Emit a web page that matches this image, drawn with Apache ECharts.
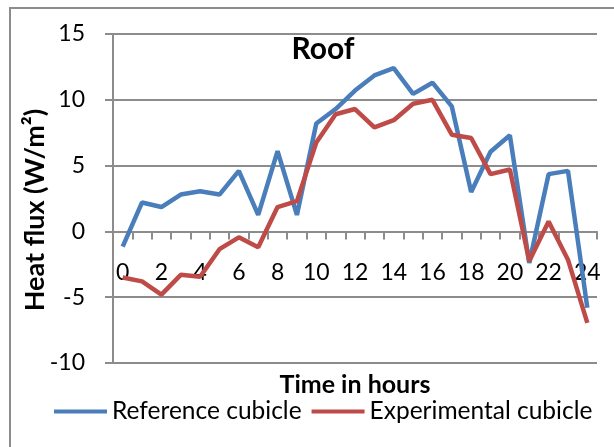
<!DOCTYPE html>
<html>
<head>
<meta charset="utf-8">
<script src="https://cdn.jsdelivr.net/npm/echarts@6/dist/echarts.min.js"></script>
<style>
  html, body { margin: 0; padding: 0; background: #fff; }
  #chart { width: 614px; height: 447px; }
</style>
</head>
<body>
<div id="chart"></div>
<script>
// Hourly heat flux through the roof, W/m²
const hours = ['0','1','2','3','4','5','6','7','8','9','10','11','12','13','14','15','16','17','18','19','20','21','22','23','24'];
const referenceCubicle = [-1.15, 2.2, 1.85, 2.8, 3.05, 2.8, 4.6, 1.25, 6.1, 1.25, 8.2, 9.3, 10.7, 11.85, 12.4, 10.45, 11.3, 9.5, 3.0, 6.05, 7.3, -2.4, 4.35, 4.6, -5.8];
const experimentalCubicle = [-3.5, -3.8, -4.8, -3.3, -3.45, -1.35, -0.45, -1.2, 1.85, 2.3, 6.75, 8.9, 9.3, 7.9, 8.45, 9.7, 10.0, 7.35, 7.1, 4.35, 4.7, -2.25, 0.75, -2.15, -6.95];
const yTicks = { min: -10, max: 15, step: 5 };
const yTitle = 'Heat flux (W/m²)';

const FONT = 'Lato';
const GRID_GRAY = '#8c8c8c';

const chart = echarts.init(document.getElementById('chart'), null, { renderer: 'canvas' });
chart.setOption({
  animation: false,
  backgroundColor: '#ffffff',
  color: ['#4a7ebb', '#be4b48'],
  title: {
    text: 'Roof',
    left: 318,
    top: 29,
    textAlign: 'center',
    textStyle: { fontFamily: FONT, fontWeight: 'bold', fontSize: 30, color: '#000' }
  },
  graphic: [{
    // outer chart frame
    type: 'rect',
    shape: { x: 10, y: 8, width: 700, height: 600 },
    style: { fill: 'none', stroke: GRID_GRAY, lineWidth: 2 },
    silent: true
  }, {
    // vertical axis title
    type: 'text',
    x: 35,
    y: 210,
    rotation: Math.PI / 2,
    style: {
      text: yTitle,
      fontFamily: FONT,
      fontWeight: 'bold',
      fontSize: 27,
      fill: '#000',
      align: 'center',
      verticalAlign: 'middle'
    },
    silent: true
  }],
  grid: { left: 113, right: 17, top: 34, bottom: 84, containLabel: false, outerBoundsMode: 'none' },
  legend: {
    left: 49,
    top: 394,
    icon: 'rect',
    itemWidth: 53,
    itemHeight: 4,
    itemGap: 10,
    textStyle: { fontFamily: FONT, fontSize: 24.5, color: '#000' },
    data: ['Reference cubicle', 'Experimental cubicle']
  },
  xAxis: {
    type: 'category',
    data: hours,
    boundaryGap: true,
    name: 'Time in hours',
    nameLocation: 'middle',
    nameGap: 9,
    nameTextStyle: { fontFamily: FONT, fontWeight: 'bold', fontSize: 25, color: '#000' },
    axisLine: { onZero: true, onZeroAxisIndex: 0, lineStyle: { color: GRID_GRAY, width: 2 } },
    axisTick: { show: true, interval: 0, alignWithLabel: false, length: 8, lineStyle: { color: GRID_GRAY, width: 2 } },
    axisLabel: { interval: 1, margin: -102, fontFamily: FONT, fontSize: 23, color: '#000' },
    splitLine: { show: false }
  },
  yAxis: {
    type: 'value',
    min: yTicks.min,
    max: yTicks.max,
    interval: yTicks.step,
    axisLine: { show: true, onZero: false, lineStyle: { color: GRID_GRAY, width: 2 } },
    axisTick: { show: true, length: 8, lineStyle: { color: GRID_GRAY, width: 2 } },
    axisLabel: { margin: 28, fontFamily: FONT, fontSize: 23, color: '#000' },
    splitLine: { show: true, lineStyle: { color: GRID_GRAY, width: 2 } }
  },
  series: [{
    name: 'Reference cubicle',
    type: 'line',
    data: referenceCubicle,
    symbol: 'none',
    lineStyle: { width: 4.5 }
  }, {
    name: 'Experimental cubicle',
    type: 'line',
    data: experimentalCubicle,
    symbol: 'none',
    lineStyle: { width: 4.5 }
  }]
});
</script>
</body>
</html>
